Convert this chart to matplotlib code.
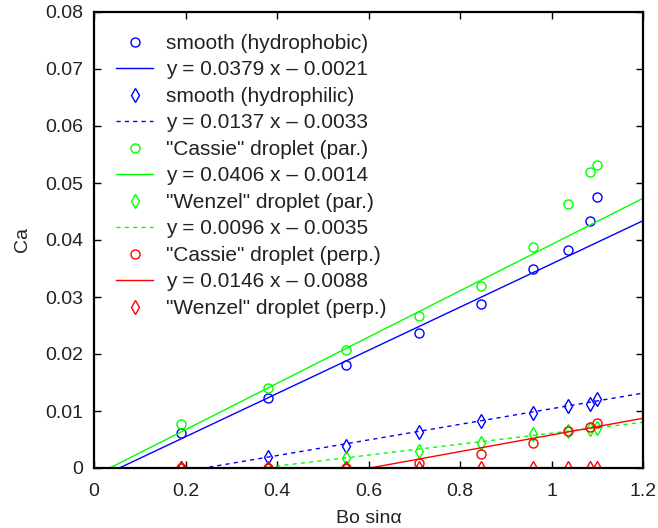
import matplotlib
matplotlib.use("Agg")
import matplotlib.pyplot as plt
import numpy as np

plt.rcParams['font.family'] = ['Liberation Sans', 'DejaVu Sans']

# x positions (Bo sin alpha)
bo = [0.19, 0.38, 0.55, 0.71, 0.845, 0.96, 1.035, 1.085, 1.10]

# measured capillary numbers
smooth_phobic = [0.0062, 0.0122, 0.0180, 0.0236, 0.0287, 0.0350, 0.0382, 0.0433, 0.0475]
smooth_philic = [0.0, 0.0019, 0.0039, 0.0063, 0.0083, 0.0097, 0.0109, 0.0113, 0.0121]
cassie_par = [0.0078, 0.0140, 0.0207, 0.0267, 0.0320, 0.0387, 0.0464, 0.0519, 0.0531]
wenzel_par = [0.0, 0.0, 0.0018, 0.0030, 0.0044, 0.0060, 0.0065, 0.0068, 0.0071]
cassie_perp = [0.0, 0.0, 0.0, 0.0009, 0.0025, 0.0044, 0.0065, 0.0072, 0.0079]
wenzel_perp = [0.0, 0.0, 0.0, 0.0, 0.0, 0.0, 0.0, 0.0, 0.0]

# linear fits (slope, intercept)
fit_phobic = (0.0379, -0.0021)
fit_philic = (0.0137, -0.0033)
fit_cassie_par = (0.0406, -0.0014)
fit_wenzel_par = (0.0096, -0.0035)
fit_cassie_perp = (0.0146, -0.0088)

xfit = np.array([0.0, 1.2])

def fit_label(f):
    return "y = %.4f x \u2013 %.4f" % (f[0], -f[1])

fig = plt.figure(figsize=(6.58, 5.28), dpi=100)
ax = fig.add_axes([94 / 658, 1 - 468 / 528, 549 / 658, 456 / 528])

circ = dict(linestyle='none', marker='o', markerfacecolor='none', markersize=6.5, markeredgewidth=1.0)
diam = dict(linestyle='none', marker='d', markerfacecolor='none', markersize=7.5, markeredgewidth=1.0)

ax.plot(bo, smooth_phobic, color='#0000ff', label='smooth (hydrophobic)', **circ)
ax.plot(xfit, fit_phobic[0] * xfit + fit_phobic[1], '-', color='#0000ff', lw=1, label=fit_label(fit_phobic))
ax.plot(bo, smooth_philic, color='#0000ff', label='smooth (hydrophilic)', **diam)
ax.plot(xfit, fit_philic[0] * xfit + fit_philic[1], '--', color='#0000ff', lw=1, dashes=(3, 3), label=fit_label(fit_philic))
ax.plot(bo, cassie_par, color='#00ff00', label='"Cassie" droplet (par.)', **circ)
ax.plot(xfit, fit_cassie_par[0] * xfit + fit_cassie_par[1], '-', color='#00ff00', lw=1, label=fit_label(fit_cassie_par))
ax.plot(bo, wenzel_par, color='#00ff00', label='"Wenzel" droplet (par.)', **diam)
ax.plot(xfit, fit_wenzel_par[0] * xfit + fit_wenzel_par[1], '--', color='#00ff00', lw=1, dashes=(3, 3), label=fit_label(fit_wenzel_par))
ax.plot(bo, cassie_perp, color='#ff0000', label='"Cassie" droplet (perp.)', **circ)
ax.plot(xfit, fit_cassie_perp[0] * xfit + fit_cassie_perp[1], '-', color='#ff0000', lw=1, label=fit_label(fit_cassie_perp))
ax.plot(bo, wenzel_perp, color='#ff0000', label='"Wenzel" droplet (perp.)', **diam)

ax.set_xlim(0, 1.2)
ax.set_ylim(0, 0.08)
ax.set_xticks([0, 0.2, 0.4, 0.6, 0.8, 1, 1.2])
ax.set_xticklabels(['0', '0.2', '0.4', '0.6', '0.8', '1', '1.2'])
ax.set_yticks([0, 0.01, 0.02, 0.03, 0.04, 0.05, 0.06, 0.07, 0.08])
ax.set_yticklabels(['0', '0.01', '0.02', '0.03', '0.04', '0.05', '0.06', '0.07', '0.08'])
ax.tick_params(direction='in', top=True, right=True, labelsize=14, length=5, width=1,
               colors='black', labelcolor='#222222')
ax.tick_params(axis='x', pad=11)
ax.tick_params(axis='y', pad=8)
for s in ax.spines.values():
    s.set_linewidth(1.6)

ax.set_xlabel('Bo sin\u03b1', fontsize=14, labelpad=7, color='#222222')
ax.set_ylabel('Ca', fontsize=14, labelpad=10, color='#222222')

leg = ax.legend(loc='upper left', frameon=False, fontsize=15, handlelength=1.8,
                labelspacing=0.36, borderaxespad=0.55, borderpad=0.5, handletextpad=0.6)
for t in leg.get_texts():
    t.set_color('#222222')

fig.savefig('out.png', dpi=100)
